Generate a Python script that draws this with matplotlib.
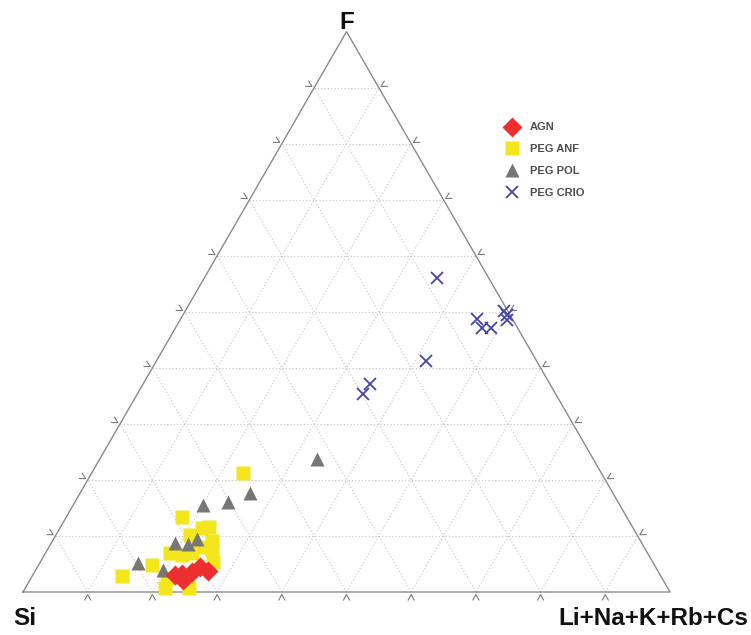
import numpy as np
import matplotlib
matplotlib.use("Agg")
import matplotlib.pyplot as plt

# compositions in % (Si, Li+Na+K+Rb+Cs, F)
agn_si = [75.0, 74.2, 72.1, 70.4, 69.5, 73.9]
agn_alk = [22.0, 23.7, 24.3, 25.1, 26.7, 22.9]
agn_f = [3.0, 2.1, 3.6, 4.5, 3.8, 3.2]

anf_si = [55.4, 68.8, 66.7, 65.4, 69.1, 66.3, 67.1, 73.8, 72.2, 70.5, 67.9, 77.7, 83.3, 77.6, 73.9, 68.7, 76.5]
anf_alk = [23.3, 17.9, 21.9, 23.0, 20.7, 24.6, 25.4, 19.3, 21.2, 22.6, 26.7, 17.5, 13.8, 21.5, 25.3, 23.2, 21.0]
anf_f = [21.3, 13.3, 11.4, 11.6, 10.2, 9.1, 7.5, 6.9, 6.6, 6.9, 5.4, 4.8, 2.9, 0.8, 0.8, 8.1, 2.5]

pol_si = [42.8, 56.0, 60.2, 64.4, 72.1, 70.2, 68.4, 79.6, 76.4]
pol_alk = [33.6, 26.2, 23.7, 20.0, 19.1, 21.3, 22.2, 15.2, 19.7]
pol_f = [23.7, 17.7, 16.1, 15.6, 8.8, 8.6, 9.4, 5.2, 3.9]

crio_si = [8.0, 5.5, 5.5, 4.0, 0.5, 0.5, 1.0, 17.0, 27.8, 29.8]
crio_alk = [36.0, 45.8, 47.3, 48.8, 49.3, 50.0, 50.5, 41.7, 35.1, 34.9]
crio_f = [56.0, 48.7, 47.2, 47.2, 50.2, 49.5, 48.5, 41.3, 37.1, 35.3]

grid_levels = [0.1, 0.2, 0.3, 0.4, 0.5, 0.6, 0.7, 0.8, 0.9]

H = np.sqrt(3) / 2


def tern(si, alk, f):
    si, alk, f = np.asarray(si, float), np.asarray(alk, float), np.asarray(f, float)
    tot = si + alk + f
    b = alk / tot
    c = f / tot
    return b + c / 2, c * H


fig = plt.figure(figsize=(7.51, 6.35), dpi=100)
ax = fig.add_axes([0, 0, 1, 1])
px = 1 / 647
ax.set_xlim(-23 * px, (751 - 23) * px)
ax.set_ylim((592 - 635) * px, 592 * px)
ax.axis("off")

# grid
gkw = dict(color="#c4c4c4", lw=0.8, linestyle=(0, (1, 2)), zorder=1)
for g in grid_levels:
    x, y = tern([1 - g, 0], [0, 1 - g], [g, g])
    ax.plot(x, y, **gkw)
    x, y = tern([1 - g, 0], [g, g], [0, 1 - g])
    ax.plot(x, y, **gkw)
    x, y = tern([g, g], [1 - g, 0], [0, 1 - g])
    ax.plot(x, y, **gkw)

# outline
x, y = tern([100, 0, 0, 100], [0, 100, 0, 0], [0, 0, 100, 0])
ax.plot(x, y, color="#8a8a8a", lw=1.0, zorder=2)

# chevron ticks pointing inward
corners = [np.array([0.0, 0.0]), np.array([1.0, 0.0]), np.array([0.5, H])]
for i, j in [(0, 1), (1, 2), (2, 0)]:
    p0, p1 = corners[i], corners[j]
    t = (p1 - p0) / np.linalg.norm(p1 - p0)
    n = np.array([t[1], -t[0]])  # outward normal
    for g in grid_levels:
        p = p0 + g * (p1 - p0)
        apex = p + n * 2.5 * px
        l1 = p + n * 8 * px - t * 3 * px
        l2 = p + n * 8 * px + t * 3 * px
        ax.plot([l1[0], apex[0], l2[0]], [l1[1], apex[1], l2[1]],
                color="#7a7a7a", lw=0.8, zorder=2)

# data
x, y = tern(anf_si, anf_alk, anf_f)
ax.plot(x, y, "s", ms=9.7, color="#f3e61c", mec="none", label="PEG ANF", zorder=4)
x, y = tern(pol_si, pol_alk, pol_f)
ax.plot(x, y, "^", ms=10, color="#777777", mec="none", label="PEG POL", zorder=5)
x, y = tern(agn_si, agn_alk, agn_f)
ax.plot(x, y, "D", ms=10, color="#ec2f2f", mec="none", label="AGN", zorder=6)
x, y = tern(crio_si, crio_alk, crio_f)
ax.plot(x, y, "x", ms=8, mew=1.3, color="#4444aa", label="PEG CRIO", zorder=7)

h, l = ax.get_legend_handles_labels()
order = [2, 0, 1, 3]
leg = ax.legend([h[k] for k in order], [l[k] for k in order],
                loc="upper left", bbox_to_anchor=(506.5 / 751, 1 - 122.5 / 635),
                frameon=False, borderpad=0, borderaxespad=0,
                handlelength=1.0, handletextpad=1.1, labelspacing=1.06,
                prop={"family": "Liberation Sans", "size": 8, "weight": "bold"})
for txt in leg.get_texts():
    txt.set_color("#4d4d4d")

lab = dict(family="Liberation Sans", weight="bold", fontsize=17.5, color="#111111")
ax.text(0.5, (592 - 29) * px, "F", ha="center", va="baseline", **lab)
ax.text(-10 * px, -33 * px, "Si", ha="left", va="baseline", **lab)
ax.text(725 * px, -33 * px, "Li+Na+K+Rb+Cs", ha="right", va="baseline", **lab)

fig.savefig("out.png", dpi=100)
